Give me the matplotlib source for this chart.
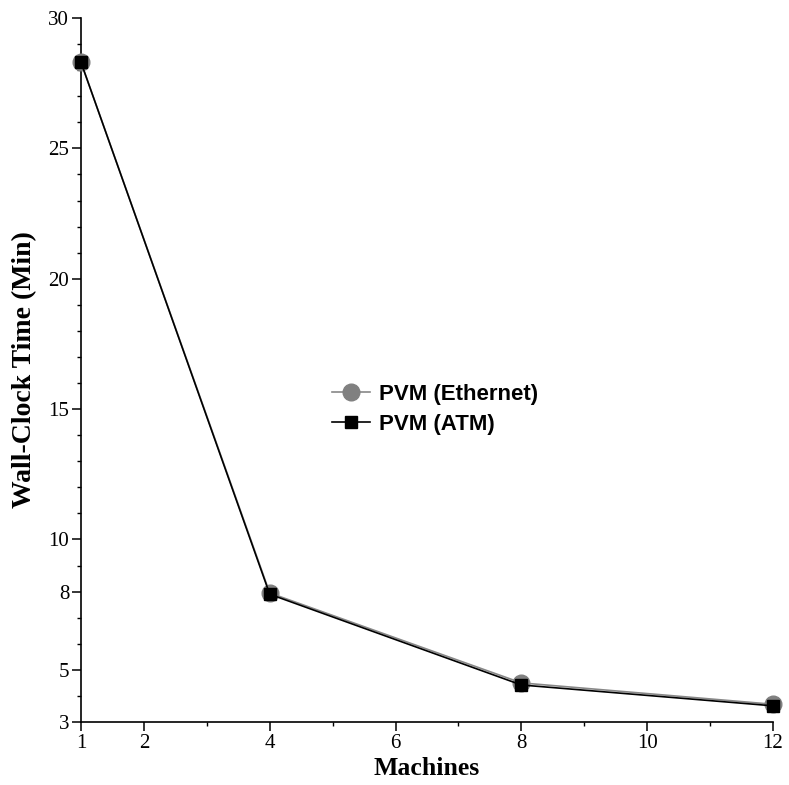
import matplotlib
matplotlib.use("Agg")
import matplotlib.pyplot as plt
from matplotlib.ticker import FixedLocator, MultipleLocator

machines = [1, 4, 8, 12]
ethernet = [28.3, 7.95, 4.5, 3.68]
atm = [28.3, 7.9, 4.42, 3.62]
xticks = [1, 2, 4, 6, 8, 10, 12]
yticks = [3, 5, 8, 10, 15, 20, 25, 30]

fig = plt.figure(figsize=(7.89, 7.85), dpi=100)
ax = fig.add_axes([81/789, 1-722/785, (773-81)/789, (722-18)/785])

serif = ["Liberation Serif", "DejaVu Serif"]
sans = ["Liberation Sans", "DejaVu Sans"]

ax.plot(machines, ethernet, color="#888888", lw=1.2, marker="o", ms=12,
        mfc="#808080", mec="#808080", label="PVM (Ethernet)", zorder=3, clip_on=False)
ax.plot(machines, atm, color="black", lw=1.2, marker="s", ms=8,
        mfc="black", mec="black", label="PVM (ATM)", zorder=4, clip_on=False)

ax.set_xlim(1, 12)
ax.set_ylim(3, 30)
ax.xaxis.set_major_locator(FixedLocator(xticks))
ax.xaxis.set_minor_locator(FixedLocator([3, 5, 7, 9, 11]))
ax.yaxis.set_major_locator(FixedLocator(yticks))
ax.yaxis.set_minor_locator(MultipleLocator(1))
ax.set_xticklabels([str(t) for t in xticks])
ax.set_yticklabels([str(t) for t in yticks])

for s in ["top", "right"]:
    ax.spines[s].set_visible(False)
for s in ["left", "bottom"]:
    ax.spines[s].set_linewidth(1.2)

ax.tick_params(which="major", direction="out", length=6.5, width=1.1, labelsize=15, pad=2)
ax.tick_params(which="minor", direction="out", length=3, width=1.0)
for lab in ax.get_xticklabels() + ax.get_yticklabels():
    lab.set_fontfamily(serif)

ax.set_xlabel("Machines", fontsize=18.5, fontweight="bold", family=serif, labelpad=3)
ax.set_ylabel("Wall-Clock Time (Min)", fontsize=20, fontweight="bold", family=serif, labelpad=8)

leg = ax.legend(loc="center left", bbox_to_anchor=((332-81)/692, (722-409.5)/704),
                frameon=False, borderpad=0, borderaxespad=0, handlelength=1.7,
                handletextpad=0.4, labelspacing=0.4,
                prop={"family": sans, "weight": "bold", "size": 16})

fig.savefig("out.png", dpi=100)
